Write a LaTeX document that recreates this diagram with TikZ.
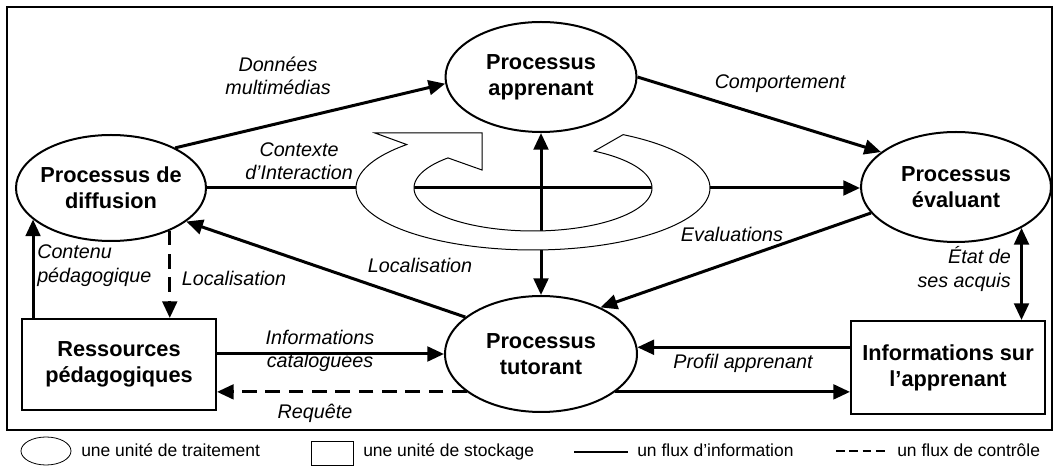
\documentclass[tikz,border=0pt]{standalone}
\usepackage{fontspec}
\setmainfont{Liberation Sans}
\usetikzlibrary{arrows.meta,shapes.geometric,calc}
\begin{document}
\begin{tikzpicture}[x=0.75pt,y=-0.75pt,
  proc/.style={draw,ellipse,line width=1.5pt,inner sep=0pt},
  store/.style={draw,rectangle,line width=1.5pt,inner sep=0pt},
  ntext/.style={font=\bfseries\fontsize{16.3}{19.5}\selectfont,align=center,inner sep=0pt},
  lab/.style={font=\itshape\fontsize{14.8}{17.5}\selectfont,align=center,inner sep=0pt},
  flow/.style={line width=2.25pt,-{Triangle[length=12.5pt,width=11pt]}},
  dflow/.style={flow,dash pattern=on 11pt off 6.5pt},
  biflow/.style={line width=2.25pt,{Triangle[length=12.5pt,width=11pt]}-{Triangle[length=12.5pt,width=11pt]}},
  legtext/.style={font=\fontsize{13.1}{15}\selectfont,anchor=base west,inner sep=0pt}
]
\useasboundingbox (0,0) rectangle (1053,466);
\draw[line width=1pt] (7,7) rectangle (1052,430);

% processes
\node[proc,minimum width=143.25pt,minimum height=82.5pt] (app) at (541,77) {};
\node[proc,minimum width=142.5pt,minimum height=79.5pt] (diff) at (111,188) {};
\node[proc,minimum width=142.5pt,minimum height=82.5pt] (eval) at (956,187) {};
\node[proc,minimum width=144pt,minimum height=87pt] (tut) at (541,354) {};
% storage
\node[store,minimum width=145.5pt,minimum height=68.25pt] (res) at (119,364.5) {};
\node[store,minimum width=145.5pt,minimum height=69.75pt] (info) at (948,367.5) {};

\node[ntext] (appT) at (app) {Processus\\apprenant};
\node[ntext] (diffT) at (diff) {Processus de\\diffusion};
\node[ntext] (evalT) at (eval) {Processus\\évaluant};
\node[ntext] (tutT) at (tut) {Processus\\tutorant};
\node[ntext] (resT) at (res) {Ressources\\pédagogiques};
\node[ntext] (infoT) at (info) {Informations sur\\l’apprenant};

% connectors
\draw[flow] (diff.32) -- (app.184);
\draw[flow] (app.east) -- (eval.155);
\draw[flow] (diff.east) -- (diff.east -| eval.west);
\draw[biflow] (app.south) -- (tut.north);
\draw[flow] (eval.197.4) -- (tut.38.7);
\draw[flow] (tut.154.4) -- (diff.336.7);
\draw[flow] (res.north -| diff.202) -- (diff.202);
\draw[dflow] (diff.324) -- (diff.324 |- res.north);
\draw[flow] (tut.west -| res.east) -- (tut.west);
\draw[dflow] (tut.207.7) -- (tut.207.7 -| res.east);
\draw[flow] (tut.4.8 -| info.west) -- (tut.4.8);
\draw[flow] (tut.333.4) -- (tut.333.4 -| info.west);
\draw[biflow] (eval.328.4) -- (eval.328.4 |- info.north);

% circular arrow
\filldraw[fill=white,draw=black,line width=0.75pt]
  plot[domain=0:283.9,samples=150] ({533+177*cos(59.4-\x)},{188-62*sin(59.4-\x)})
  -- (375,133) -- (482,133) -- (482,170)
  -- plot[domain=0:283.4,samples=150] ({533+119*cos(-224.4+\x)},{188-43*sin(-224.4+\x)})
  -- cycle;

% labels
\node[lab] (l1) at (278,76) {Données\\multimédias};
\node[lab] (l2) at (780,84) {Comportement};
\node[lab] (l3) at (299,161) {Contexte\\d’Interaction};
\node[lab] (l4) at (732,234) {Evaluations};
\node[lab] (l5) at (420,265) {Localisation};
\node[lab,anchor=west,align=left] (l6) at (37,265.5) {Contenu\\pédagogique};
\node[lab] (l7) at (234,278) {Localisation};
\node[lab] (l8) at (320,351) {Informations\\cataloguées};
\node[lab] (l9) at (315,413) {Requête};
\node[lab] (l10) at (743,363) {Profil apprenant};
\node[lab,anchor=east,align=right] (l11) at (1011,269) {État de\\ses acquis};

% legend
\node[draw,ellipse,line width=0.6pt,minimum width=37.5pt,minimum height=21pt,inner sep=0pt] (legE) at (46,451) {};
\node[legtext] (legEt) at (81,456) {une unité de traitement};
\node[draw,line width=0.6pt,minimum width=31.5pt,minimum height=18pt,inner sep=0pt] (legR) at (332,453) {};
\node[legtext] (legRt) at (363,456) {une unité de stockage};
\coordinate (ls1) at (574,452);
\coordinate (ls2) at (628,452);
\draw[line width=1.8pt] (ls1) -- (ls2);
\node[legtext] (legSt) at (637,456) {un flux d’information};
\coordinate (ld1) at (836,451);
\coordinate (ld2) at (889,451);
\draw[line width=1.8pt,dash pattern=on 6.5pt off 3.5pt] (ld1) -- (ld2);
\node[legtext] (legDt) at (897,456) {un flux de contrôle};
\end{tikzpicture}
\end{document}
